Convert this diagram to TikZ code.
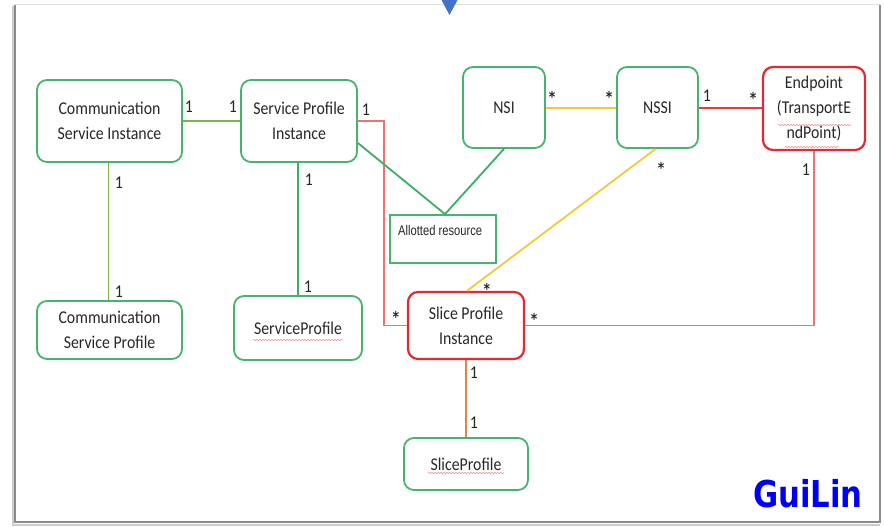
\documentclass[tikz,border=0pt]{standalone}
\usepackage{fontspec}
\setmainfont{Carlito}[FakeStretch=0.88]
\newfontfamily\arfont{Liberation Sans}[FakeStretch=0.8]
\newfontfamily\guifont{DejaVu Sans}[FakeStretch=0.83]
\usetikzlibrary{calc,decorations.pathmorphing}
\definecolor{nodegreen}{RGB}{70,180,110}
\definecolor{nodered}{RGB}{230,40,50}
\definecolor{oliveline}{RGB}{125,180,70}
\definecolor{greenline}{RGB}{60,175,100}
\definecolor{yellowline}{RGB}{245,200,60}
\definecolor{pinkline}{RGB}{240,115,115}
\definecolor{redline}{RGB}{235,60,60}
\definecolor{orangeline}{RGB}{225,135,70}
\definecolor{txtgray}{RGB}{40,40,40}
\definecolor{tribl}{RGB}{68,114,196}
\definecolor{guiblue}{RGB}{0,0,250}
\tikzset{
  gbox/.style={draw=nodegreen, line width=1.8pt, rounded corners=10pt, fill=white,
    align=center, text=txtgray, inner sep=0pt, font=\fontsize{18}{25}\selectfont},
  rbox/.style={gbox, draw=nodered, line width=2.2pt},
  sqbox/.style={draw=nodegreen, line width=1.8pt, fill=white, inner sep=0pt},
  mult/.style={anchor=base, inner sep=0pt, text=black!85, font=\fontsize{18}{20}\selectfont},
  star/.style={anchor=base, inner sep=0pt, text=black!85, font=\guifont\bfseries\fontsize{15}{15}\selectfont},
  wavy/.style={draw=pinkline!80, line width=0.6pt, decorate,
    decoration={snake, amplitude=0.6pt, segment length=3pt}},
}
\begin{document}
\begin{tikzpicture}[x=1pt,y=-1pt]
\useasboundingbox (0,0) rectangle (884,527);
% frame
\fill[white] (15,5) rectangle (880,522);
\draw[black!12, line width=1pt] (15,5) -- (880,5);
\draw[black!20, line width=2pt] (12.5,6) -- (12.5,524.5) -- (880,524.5);
\draw[black!45, line width=1.6pt] (15,5) -- (15,522) -- (880,522) -- (880,5);
\fill[tribl] (441.5,0) -- (457.5,0) -- (449.5,15) -- cycle;

% nodes
\node[gbox, minimum width=145pt, minimum height=82pt] (csi) at (109.5,121) {Communication\\Service Instance};
\node[gbox, minimum width=116pt, minimum height=82pt] (spi) at (299,121) {Service Profile\\Instance};
\node[sqbox, minimum width=106pt, minimum height=48pt] (ar) at (443,239) {};
\node[anchor=base west, inner sep=0pt, text=txtgray, font=\arfont\fontsize{14}{16}\selectfont] (artext) at (398,235) {Allotted resource};
\node[gbox, minimum width=82pt, minimum height=81pt] (nsi) at (504,107.5) {NSI};
\node[gbox, minimum width=81pt, minimum height=81pt] (nssi) at (657.5,107.5) {NSSI};
\node[rbox, minimum width=102pt, minimum height=83pt] (ep) at (814,108.5) {Endpoint\\(TransportE\\ndPoint)};
\node[gbox, minimum width=145pt, minimum height=58pt] (csp) at (109.5,330) {Communication\\Service Profile};
\node[gbox, minimum width=128pt, minimum height=64pt] (sp) at (298,328) {ServiceProfile};
\node[rbox, minimum width=116pt, minimum height=67pt] (sli) at (466,325.5) {Slice Profile\\Instance};
\node[gbox, minimum width=124pt, minimum height=52pt] (slp) at (466,464) {SliceProfile};

% spelling underlines
\draw[wavy] ($(sp.center)+(-45,12)$) -- ($(sp.center)+(45,12)$);
\draw[wavy] ($(slp.center)+(-38,9)$) -- ($(slp.center)+(38,9)$);
\draw[wavy] ($(ep.center)+(-36,16.5)$) -- ($(ep.center)+(37,16.5)$);
\draw[wavy] ($(ep.center)+(-29,38.5)$) -- ($(ep.center)+(25,38.5)$);

% connectors
\draw[oliveline, line width=1.8pt] (csi.east) -- (spi.west);
\draw[oliveline, line width=1.6pt] ([xshift=-1pt]csi.south) -- ([xshift=-1pt]csp.north);
\draw[greenline, line width=1.8pt] ([xshift=-1pt]spi.south) -- ([xshift=-1pt]spi.south |- sp.north);
\draw[pinkline, line width=1.3pt] (spi.east) -- ++(26,0) |- (sli.west);
\draw[greenline, line width=1.8pt] ([yshift=-22pt]spi.east) -- ([xshift=2pt]ar.north);
\draw[greenline, line width=1.8pt] (nsi.south) -- ([xshift=2pt]ar.north);
\draw[yellowline, line width=2pt] (nsi.east) -- (nssi.west);
\draw[redline, line width=2pt] (nssi.east) -- (nssi.east -| ep.west);
\draw[yellowline, line width=1.8pt] ([xshift=-2pt]nssi.south) -- ([xshift=1pt]sli.north);
\draw[pinkline, line width=1.3pt] (ep.south) |- (sli.east);
\draw[orangeline, line width=1.8pt] (sli.south) -- (slp.north);

% multiplicities
\node[mult] (m1) at (189,113) {1};
\node[mult] (m2) at (233,113) {1};
\node[mult] (m3) at (119,188) {1};
\node[mult] (m4) at (119,297) {1};
\node[mult] (m5) at (309,185) {1};
\node[mult] (m6) at (308,292) {1};
\node[mult] (m7) at (366,115) {1};
\node[star] (m8) at (396,322.5) {*};
\node[star] (m9) at (552,102.5) {*};
\node[star] (m10) at (609,102.5) {*};
\node[mult] (m11) at (707,102) {1};
\node[star] (m12) at (753,103.5) {*};
\node[star] (m13) at (661,173.5) {*};
\node[mult] (m14) at (806,175) {1};
\node[star] (m15) at (487,294.5) {*};
\node[star] (m16) at (534,324.5) {*};
\node[mult] (m17) at (474,378) {1};
\node[mult] (m18) at (474,428) {1};

\node[anchor=base, inner sep=0pt, text=guiblue, font=\guifont\bfseries\fontsize{37}{40}\selectfont] (gl) at (808,507) {GuiLin};
\end{tikzpicture}
\end{document}
